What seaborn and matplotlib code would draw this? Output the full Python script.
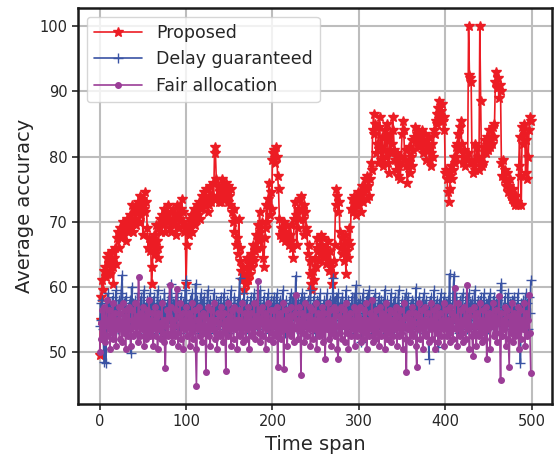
import numpy as np
import pandas as pd
import matplotlib
matplotlib.use('Agg')
import matplotlib.pyplot as plt
import seaborn as sns

# values (one per time step)
time_span = np.arange(500)

proposed = [
    49.5, 55.0, 58.5, 61.0, 59.5, 62.5, 63.0, 61.5, 64.5, 62.0, 65.0, 63.5, 62.0, 64.0, 65.5, 63.0, 60.5, 64.5, 66.0, 63.5,
    67.5, 68.5, 66.0, 68.0, 69.0, 67.5, 68.5, 70.0, 68.0, 69.5, 67.0, 69.0, 70.5, 68.5, 69.5, 71.0, 69.0, 72.5, 70.0, 68.5,
    70.5, 72.0, 69.5, 71.5, 73.0, 70.0, 72.5, 74.0, 71.0, 73.5, 68.0, 72.0, 74.5, 71.5, 73.0, 69.0, 66.0, 67.5, 65.5, 67.0,
    60.5, 63.0, 66.5, 68.0, 65.0, 69.5, 67.0, 64.5, 66.0, 69.0, 70.5, 68.5, 71.0, 69.5, 72.0, 70.0, 68.5, 71.5, 70.0, 72.5,
    70.5, 69.0, 71.5, 68.5, 70.0, 72.0, 69.5, 71.0, 68.0, 70.5, 72.5, 71.0, 69.0, 70.5, 72.0, 73.5, 71.5, 70.0, 68.5, 69.5,
    60.5, 66.5, 69.0, 68.0, 70.5, 69.5, 71.0, 68.5, 70.0, 72.0, 69.5, 71.5, 70.5, 72.5, 71.0, 73.0, 70.5, 72.0, 74.0, 72.5,
    73.0, 74.5, 72.5, 75.0, 73.5, 71.5, 74.0, 72.5, 75.5, 73.0, 74.0, 76.0, 73.5, 81.5, 80.5, 76.5, 74.0, 75.5, 73.0, 74.5,
    75.5, 73.0, 76.5, 74.0, 75.0, 73.5, 76.0, 74.5, 73.0, 75.5, 74.0, 72.5, 75.0, 71.5, 70.0, 72.0, 68.5, 70.5, 66.5, 67.5,
    65.0, 70.5, 66.0, 64.0, 62.5, 61.0, 63.0, 59.5, 61.5, 60.5, 62.0, 64.5, 61.0, 63.5, 62.0, 65.0, 63.0, 64.5, 66.5, 64.0,
    65.5, 68.0, 66.0, 69.5, 67.0, 71.5, 68.5, 66.0, 70.0, 64.5, 63.0, 67.5, 69.0, 72.5, 70.0, 73.5, 76.0, 71.0, 74.5, 72.0,
    79.5, 80.5, 81.0, 79.0, 81.5, 80.0, 77.0, 75.0, 70.5, 68.0, 69.0, 67.5, 68.5, 70.0, 67.0, 68.5, 69.5, 67.5, 68.0, 66.5,
    68.0, 69.5, 67.0, 66.0, 64.5, 70.5, 73.0, 71.0, 66.5, 69.0, 72.0, 70.5, 73.5, 74.0, 72.0, 70.5, 68.0, 72.5, 71.5, 69.0,
    68.5, 65.0, 66.5, 62.0, 64.0, 60.5, 59.5, 62.5, 61.0, 64.5, 63.0, 66.0, 67.5, 65.5, 64.0, 66.5, 68.0, 65.0, 67.5, 66.0,
    64.5, 66.0, 63.5, 65.0, 67.0, 64.0, 62.5, 65.5, 63.0, 60.5, 62.0, 64.0, 66.5, 72.5, 75.0, 74.0, 71.5, 73.0, 68.5, 66.0,
    67.5, 65.0, 66.5, 64.0, 68.0, 62.0, 65.5, 67.0, 64.5, 69.0, 66.5, 72.0, 73.5, 71.5, 74.0, 72.5, 73.0, 71.0, 72.5, 74.5,
    72.5, 73.5, 71.5, 74.0, 75.5, 73.0, 74.5, 76.5, 75.0, 73.5, 77.0, 75.5, 74.0, 76.5, 79.0, 78.0, 84.0, 86.5, 83.5, 85.0,
    80.5, 82.0, 79.0, 84.5, 86.0, 81.5, 79.5, 83.0, 78.5, 81.0, 84.0, 80.0, 82.5, 85.0, 79.0, 77.5, 83.5, 80.5, 82.0, 86.0,
    84.0, 81.0, 79.5, 78.0, 80.5, 77.0, 79.0, 78.5, 76.5, 80.0, 83.5, 85.5, 84.0, 79.5, 81.0, 78.5, 76.0, 79.0, 81.5, 77.5,
    80.0, 82.5, 78.5, 81.0, 83.0, 84.5, 82.5, 83.5, 82.0, 84.0, 81.5, 83.0, 82.5, 84.0, 80.5, 82.0, 83.5, 81.0, 79.5, 82.5,
    81.0, 83.0, 79.5, 80.5, 78.5, 82.0, 80.0, 84.0, 83.5, 85.5, 86.5, 85.0, 87.5, 88.5, 86.0, 87.0, 88.0, 85.5, 84.0, 86.0,
    77.5, 78.0, 76.5, 74.5, 73.0, 75.0, 77.0, 78.5, 76.5, 78.0, 80.0, 79.0, 81.5, 80.0, 82.0, 83.5, 81.0, 84.5, 85.5, 82.0,
    80.0, 79.0, 81.0, 78.5, 80.0, 79.5, 80.5, 100.0, 92.5, 92.0, 91.5, 79.0, 77.5, 78.5, 82.0, 78.0, 79.5, 81.5, 80.0, 78.0,
    100.0, 88.5, 78.5, 80.0, 79.0, 81.5, 82.5, 80.5, 83.0, 81.0, 82.5, 84.0, 81.5, 83.0, 82.0, 84.5, 83.0, 85.0, 91.5, 93.0,
    90.5, 92.0, 89.0, 91.0, 90.0, 79.0, 77.0, 79.5, 76.5, 78.0, 75.5, 77.5, 76.0, 74.5, 75.5, 76.5, 74.0, 73.5, 75.0, 74.0,
    73.0, 72.5, 74.0, 73.0, 72.5, 78.5, 83.0, 77.0, 72.5, 84.5, 82.0, 85.0, 83.5, 77.5, 82.5, 76.5, 80.0, 84.0, 86.0, 85.5,
]

delay_guaranteed = [
    54.0, 57.5, 55.0, 58.0, 53.5, 48.5, 56.0, 48.3, 57.0, 55.5, 59.0, 54.0, 57.5, 56.0, 53.0, 58.5, 55.0, 57.0, 54.5, 59.5,
    56.0, 53.5, 58.0, 55.5, 57.0, 59.0, 61.8, 55.0, 57.5, 54.0, 58.5, 56.0, 53.5, 57.0, 55.5, 58.0, 49.8, 60.0, 55.0, 57.5,
    54.5, 58.0, 56.5, 53.0, 59.0, 55.5, 57.0, 54.0, 58.5, 56.0, 55.0, 59.5, 53.5, 57.0, 55.5, 58.0, 54.0, 56.5, 59.0, 55.0,
    57.5, 53.0, 56.0, 58.5, 54.5, 57.0, 55.0, 59.5, 56.5, 53.5, 58.0, 55.0, 57.5, 54.0, 56.5, 59.0, 52.5, 57.0, 55.5, 58.0,
    56.0, 54.5, 58.5, 60.5, 55.0, 57.5, 53.5, 58.0, 56.0, 54.0, 59.0, 55.5, 57.0, 53.0, 58.5, 56.0, 54.5, 57.5, 55.0, 59.5,
    61.0, 55.5, 57.0, 53.5, 58.0, 56.5, 54.0, 59.0, 55.0, 57.5, 53.0, 60.5, 56.0, 58.0, 54.5, 57.0, 55.5, 59.0, 53.5, 57.5,
    56.0, 58.5, 54.0, 57.0, 55.5, 59.5, 53.0, 56.5, 58.0, 54.5, 57.0, 55.0, 59.0, 56.5, 53.5, 58.0, 55.5, 57.5, 54.0, 56.0,
    58.5, 55.0, 57.0, 53.5, 59.0, 56.0, 54.5, 58.0, 55.5, 57.5, 53.0, 56.5, 59.5, 55.0, 57.0, 54.0, 58.5, 56.0, 55.0, 57.5,
    54.5, 58.0, 61.4, 56.0, 53.5, 57.5, 55.0, 59.0, 54.0, 56.5, 58.0, 55.5, 53.0, 57.0, 55.5, 58.5, 54.5, 57.0, 56.0, 59.0,
    55.0, 57.5, 53.5, 58.0, 56.5, 54.0, 59.5, 55.5, 57.0, 53.0, 58.5, 56.0, 54.5, 57.5, 55.0, 59.0, 56.5, 53.5, 58.0, 55.5,
    57.0, 54.0, 58.5, 56.0, 55.0, 59.0, 53.5, 57.5, 55.5, 58.0, 54.5, 56.5, 59.5, 55.0, 57.0, 53.0, 58.0, 56.0, 54.5, 57.5,
    55.5, 59.0, 56.0, 53.5, 58.5, 55.0, 57.0, 61.7, 56.5, 54.0, 58.0, 55.5, 57.5, 53.0, 59.0, 56.0, 54.5, 58.5, 55.0, 57.0,
    53.5, 58.0, 56.5, 55.0, 59.5, 54.0, 57.0, 55.5, 58.5, 53.0, 56.0, 58.0, 54.5, 57.5, 55.0, 59.0, 56.5, 53.5, 57.0, 55.5,
    58.0, 54.0, 56.5, 59.0, 55.0, 57.5, 53.5, 58.0, 56.0, 54.5, 61.4, 57.0, 55.5, 58.5, 53.0, 56.5, 59.0, 55.0, 57.5, 54.0,
    56.0, 58.5, 55.0, 57.0, 53.5, 59.5, 56.5, 54.0, 58.0, 55.5, 57.0, 53.0, 58.5, 56.0, 55.0, 59.0, 54.5, 60.3, 56.0, 57.5,
    55.0, 58.0, 54.0, 51.5, 57.5, 59.0, 55.5, 57.0, 53.5, 58.5, 56.0, 54.5, 59.5, 55.0, 57.5, 53.0, 58.0, 56.5, 55.0, 59.0,
    54.0, 57.0, 55.5, 58.5, 53.5, 56.0, 58.0, 55.0, 57.5, 54.5, 59.6, 56.0, 53.0, 58.0, 55.5, 57.0, 54.0, 59.0, 56.5, 55.0,
    57.5, 53.5, 58.5, 56.0, 54.5, 57.0, 59.5, 55.0, 56.5, 53.0, 58.0, 55.5, 57.5, 54.0, 59.0, 56.0, 55.0, 58.5, 53.5, 57.0,
    55.5, 58.0, 54.0, 57.5, 56.0, 53.5, 59.9, 55.0, 57.0, 54.5, 58.5, 56.0, 55.0, 57.5, 53.0, 59.0, 56.5, 54.0, 58.0, 55.5,
    57.0, 49.0, 56.0, 58.5, 54.5, 57.0, 55.0, 59.5, 53.5, 56.5, 58.0, 55.0, 50.8, 57.5, 55.5, 59.0, 54.0, 57.0, 56.0, 58.5,
    55.0, 57.5, 53.5, 58.0, 56.0, 62.0, 55.5, 57.0, 54.0, 59.0, 61.7, 56.5, 54.5, 58.5, 55.0, 57.0, 53.0, 58.0, 56.5, 55.0,
    59.0, 54.5, 57.0, 55.5, 58.5, 53.5, 56.0, 59.0, 55.0, 57.5, 54.0, 58.0, 56.5, 53.5, 59.5, 55.0, 57.0, 54.5, 58.0, 56.0,
    55.5, 58.5, 53.0, 57.0, 56.0, 59.0, 54.5, 57.5, 55.0, 58.0, 53.5, 56.5, 59.0, 55.5, 57.0, 54.0, 58.5, 56.0, 55.0, 57.5,
    54.0, 58.0, 56.5, 55.0, 59.5, 60.6, 54.5, 57.0, 55.5, 58.5, 53.5, 57.0, 56.0, 59.0, 54.0, 57.5, 55.5, 58.0, 53.0, 56.5,
    58.5, 55.0, 57.0, 54.5, 59.0, 56.0, 55.0, 48.3, 57.5, 55.5, 58.0, 54.0, 56.5, 59.0, 55.0, 57.5, 53.5, 58.5, 56.0, 61.0,
]

fair_allocation = [
    50.0, 54.5, 52.0, 56.5, 53.0, 57.0, 51.5, 55.0, 58.0, 52.5, 54.0, 56.5, 50.5, 55.5, 53.0, 57.5, 52.0, 54.5, 56.0, 51.0,
    55.0, 53.5, 57.0, 52.0, 56.0, 54.5, 51.5, 57.5, 53.0, 55.5, 50.5, 56.5, 54.0, 52.5, 57.0, 53.5, 51.0, 55.0, 56.5, 52.5,
    54.0, 57.5, 53.0, 55.5, 51.5, 61.5, 54.0, 52.5, 56.0, 53.5, 57.0, 51.0, 55.5, 54.0, 52.0, 56.5, 53.0, 58.0, 52.5, 55.0,
    53.5, 56.0, 51.0, 54.5, 57.0, 52.5, 55.5, 50.5, 56.0, 53.5, 54.5, 52.0, 57.5, 53.0, 55.0, 51.5, 47.5, 54.0, 56.5, 52.5,
    55.5, 60.3, 53.0, 57.0, 51.5, 55.0, 54.0, 52.5, 56.5, 59.7, 53.0, 51.0, 55.5, 57.5, 52.0, 54.5, 56.0, 50.5, 55.0, 53.5,
    57.0, 52.5, 54.5, 56.0, 51.0, 55.5, 53.0, 57.5, 52.0, 54.0, 56.5, 50.5, 44.8, 55.0, 53.5, 57.0, 52.5, 55.5, 54.0, 51.5,
    56.0, 53.0, 55.5, 47.0, 54.0, 57.0, 52.5, 55.0, 51.0, 56.5, 53.5, 54.5, 57.5, 52.0, 55.0, 53.0, 50.5, 56.0, 54.5, 52.5,
    55.5, 57.0, 53.0, 51.5, 56.0, 54.0, 47.1, 55.0, 52.5, 57.5, 53.5, 55.5, 51.0, 56.5, 54.0, 52.0, 57.0, 53.5, 55.0, 50.5,
    54.5, 56.5, 52.5, 55.0, 53.0, 57.5, 51.5, 54.0, 56.0, 52.0, 55.5, 53.5, 57.0, 50.5, 54.5, 56.0, 52.5, 55.0, 53.0, 57.5,
    52.0, 55.5, 54.0, 60.9, 53.0, 56.5, 51.5, 55.0, 57.0, 52.5, 54.5, 56.0, 50.5, 55.5, 53.5, 57.5, 52.0, 54.0, 56.5, 53.0,
    55.0, 51.5, 56.5, 54.0, 52.5, 57.0, 47.7, 55.5, 53.0, 56.0, 52.0, 54.5, 57.5, 47.4, 55.0, 53.5, 56.5, 51.0, 54.0, 55.5,
    53.0, 57.0, 52.5, 55.5, 54.0, 51.5, 56.0, 58.8, 53.5, 55.0, 52.0, 57.0, 54.5, 46.5, 56.0, 53.0, 55.5, 51.5, 57.5, 54.0,
    52.5, 55.5, 53.5, 57.0, 51.0, 54.5, 56.5, 52.0, 55.0, 53.5, 57.5, 50.5, 54.0, 56.0, 52.5, 55.5, 53.0, 57.0, 51.5, 54.5,
    56.0, 49.0, 55.0, 53.5, 57.5, 52.0, 54.5, 56.5, 51.0, 55.0, 53.0, 57.0, 52.5, 54.0, 56.5, 50.5, 49.0, 55.5, 53.0, 57.0,
    52.0, 55.0, 54.0, 56.5, 51.5, 57.5, 53.0, 55.5, 50.5, 54.5, 56.0, 52.5, 55.0, 53.5, 57.0, 51.0, 54.0, 56.5, 52.5, 55.5,
    53.5, 57.0, 51.5, 55.0, 54.0, 52.0, 56.5, 53.0, 57.5, 50.5, 55.0, 54.5, 52.5, 56.0, 53.5, 58.0, 51.5, 55.5, 54.0, 52.0,
    56.5, 53.0, 55.0, 51.0, 57.0, 54.5, 52.5, 56.0, 53.5, 55.5, 50.5, 57.5, 54.0, 52.0, 55.5, 53.0, 56.5, 51.5, 55.0, 54.0,
    52.5, 56.0, 53.5, 57.0, 51.0, 55.5, 54.0, 52.5, 56.5, 53.0, 55.0, 50.5, 57.5, 54.0, 52.0, 47.0, 55.5, 53.5, 56.0, 51.5,
    55.0, 53.0, 57.0, 52.5, 54.5, 56.0, 51.0, 47.7, 55.5, 53.5, 57.5, 52.0, 54.0, 56.5, 50.5, 55.0, 53.0, 57.0, 52.5, 54.5,
    56.0, 51.5, 55.0, 53.5, 57.5, 52.0, 54.5, 56.5, 50.5, 55.5, 53.0, 57.0, 51.5, 54.0, 56.0, 52.5, 55.0, 53.5, 57.5, 51.0,
    54.5, 56.5, 52.5, 55.0, 53.0, 57.0, 51.5, 54.0, 56.0, 52.0, 55.5, 59.8, 53.5, 55.0, 51.0, 57.5, 54.0, 52.5, 56.5, 53.0,
    55.0, 51.5, 57.0, 54.5, 52.0, 60.3, 53.5, 55.5, 50.5, 56.5, 54.0, 52.5, 49.4, 57.0, 53.0, 55.5, 51.0, 56.0, 54.5, 52.5,
    57.5, 53.0, 55.0, 51.5, 56.5, 54.0, 52.0, 57.0, 49.0, 55.5, 53.5, 56.0, 50.5, 55.0, 54.0, 57.5, 52.5, 55.5, 53.0, 56.5,
    51.5, 54.5, 58.6, 53.0, 45.8, 56.0, 52.5, 55.0, 53.5, 57.0, 51.0, 54.5, 56.5, 52.0, 47.7, 55.5, 53.0, 57.5, 51.5, 54.0,
    56.0, 52.5, 55.5, 53.0, 57.0, 50.5, 54.5, 56.5, 52.0, 55.0, 53.5, 57.5, 51.0, 54.0, 56.0, 52.5, 55.0, 58.8, 53.0, 46.8,
]

series = {
    'Proposed': (proposed, '#ec1c24', '*', 7),
    'Delay guaranteed': (delay_guaranteed, '#3a53a4', '+', 7.5),
    'Fair allocation': (fair_allocation, '#9b3d97', 'o', 4),
}

# setup
sns.set_theme(style='ticks', rc={
    'axes.grid': True,
    'grid.color': '#bdbdbd',
    'grid.linewidth': 1.5,
    'axes.edgecolor': '#1a1a1a',
    'axes.linewidth': 1.8,
})

fig, ax = plt.subplots(figsize=(5.54, 4.55), dpi=100)
fig.subplots_adjust(left=0.141, right=0.997, top=0.982, bottom=0.112)

for name, (values, color, marker, ms) in series.items():
    df = pd.DataFrame({'Time span': time_span, 'Average accuracy': values})
    sns.lineplot(data=df, x='Time span', y='Average accuracy', ax=ax,
                 color=color, marker=marker, markersize=ms, linewidth=1.2,
                 markeredgecolor=color, markeredgewidth=1.0, label=name)

ax.set_xticks([0, 100, 200, 300, 400, 500])
ax.set_yticks([50, 60, 70, 80, 90, 100])
ax.tick_params(labelsize=10.5, length=4, width=1.2)
ax.set_xlabel('Time span', fontsize=14)
ax.set_ylabel('Average accuracy', fontsize=14)
for s in ax.spines.values():
    s.set_visible(True)

ax.legend(loc='upper left', fontsize=12.5, frameon=True, handlelength=2.8)

plt.savefig('out.png', dpi=100)
